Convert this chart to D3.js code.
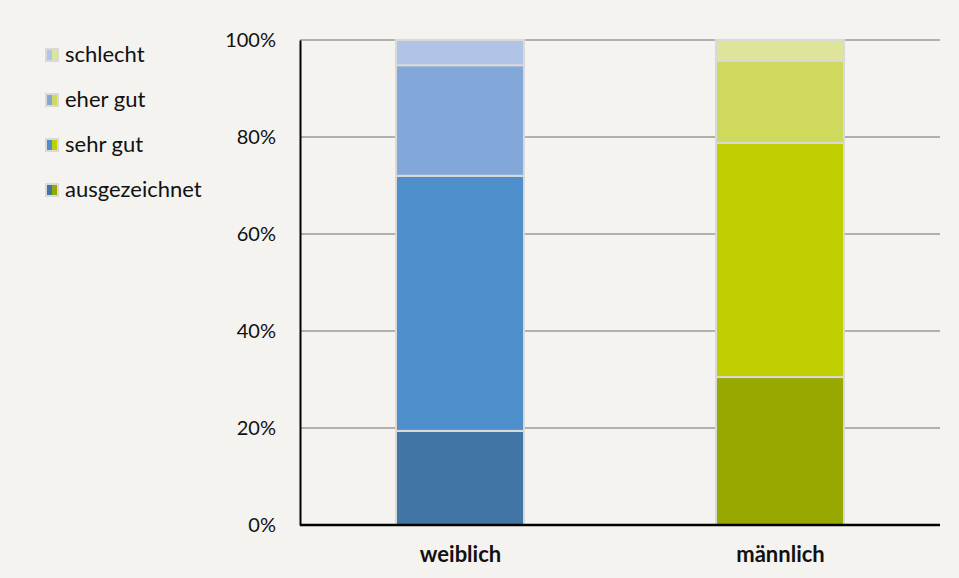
<!DOCTYPE html>
<html>
<head>
<meta charset="utf-8">
<script src="https://cdn.jsdelivr.net/npm/d3@7"></script>
<style>
  html, body { margin: 0; padding: 0; background: #f4f3ef; }
  svg { display: block; }
  text { font-family: Lato, "Open Sans", sans-serif; fill: #111; }
</style>
</head>
<body>
<svg id="chart" width="959" height="578"></svg>
<script>
// Gender groups on the x axis
const categories = ["weiblich", "männlich"];
// Rating levels, bottom to top of each stack
const levels = ["ausgezeichnet", "sehr gut", "eher gut", "schlecht"];
// Shares in percent per rating level, in category order
const ausgezeichnet = [19.4, 30.5];
const sehrGut = [52.6, 48.3];
const eherGut = [22.8, 16.9];
const schlecht = [5.2, 4.3];
const yTicks = [0, 20, 40, 60, 80, 100];

// Each gender has its own colour family, one shade per level
const palette = {
  "weiblich": ["#4175a5", "#4d8ecb", "#82a8da", "#b0c4e6"],
  "männlich": ["#97a800", "#bfcf00", "#cfd95c", "#dee59a"]
};

const seriesValues = [ausgezeichnet, sehrGut, eherGut, schlecht];
const rows = categories.map((c, i) => {
  const r = { category: c };
  levels.forEach((l, k) => r[l] = seriesValues[k][i]);
  return r;
});
const stacked = d3.stack().keys(levels)(rows);

const svg = d3.select("#chart");
svg.append("rect").attr("width", 959).attr("height", 578).attr("fill", "#f4f3ef");

const x = d3.scalePoint().domain(categories).range([300, 940]).padding(0.5);
const barW = x.step() * 0.4;
const y = d3.scaleLinear().domain([0, 100]).range([525, 40]);

// Horizontal gridlines
svg.append("g")
  .selectAll("line")
  .data(yTicks.filter(t => t > 0))
  .join("line")
  .attr("x1", 300).attr("x2", 940)
  .attr("y1", d => y(d)).attr("y2", d => y(d))
  .attr("stroke", "#6f6f6f").attr("stroke-width", 1.2);

// Stacked bars
const layers = svg.append("g").selectAll("g").data(stacked).join("g");
layers.selectAll("rect")
  .data(s => s.map(d => ({ key: s.key, idx: s.index, d })))
  .join("rect")
  .attr("x", v => x(v.d.data.category) - barW / 2)
  .attr("width", barW)
  .attr("y", v => y(v.d[1]))
  .attr("height", v => y(v.d[0]) - y(v.d[1]))
  .attr("fill", v => palette[v.d.data.category][v.idx])
  .attr("stroke", "#d9d9d9")
  .attr("stroke-width", 2);

// Y axis
const yAxis = d3.axisLeft(y).tickValues(yTicks).tickFormat(d => d + "%").tickSize(0).tickPadding(24);
const gy = svg.append("g").attr("transform", "translate(300,0)").call(yAxis);
gy.select(".domain").attr("stroke", "#000").attr("stroke-width", 2);
gy.selectAll("text").attr("font-size", 20).attr("font-family", "Lato, sans-serif").attr("fill", "#111");

// X baseline and labels
const xAxis = d3.axisBottom(x).tickSize(0).tickPadding(21);
const gx = svg.append("g").attr("transform", "translate(0,525)").call(xAxis);
gx.select(".domain").attr("d", "M300,0H940").attr("stroke", "#000").attr("stroke-width", 2.5);
gx.selectAll("text").attr("font-size", 22).attr("font-weight", "bold")
  .attr("font-family", "Lato, sans-serif").attr("fill", "#111");

// Legend, top to bottom: schlecht ... ausgezeichnet
const legendItems = levels.slice().reverse();
const lg = svg.append("g").selectAll("g").data(legendItems).join("g")
  .attr("transform", (d, i) => `translate(45,${48 + i * 45})`);
lg.append("rect").attr("width", 14).attr("height", 14).attr("fill", "#d9d9d9");
lg.append("rect").attr("x", 2).attr("y", 2).attr("width", 5).attr("height", 10)
  .attr("fill", d => palette["weiblich"][levels.indexOf(d)]);
lg.append("rect").attr("x", 7).attr("y", 2).attr("width", 5).attr("height", 10)
  .attr("fill", d => palette["männlich"][levels.indexOf(d)]);
lg.append("text").attr("x", 20).attr("y", 14)
  .attr("font-size", 22)
  .text(d => d);
</script>
</body>
</html>
